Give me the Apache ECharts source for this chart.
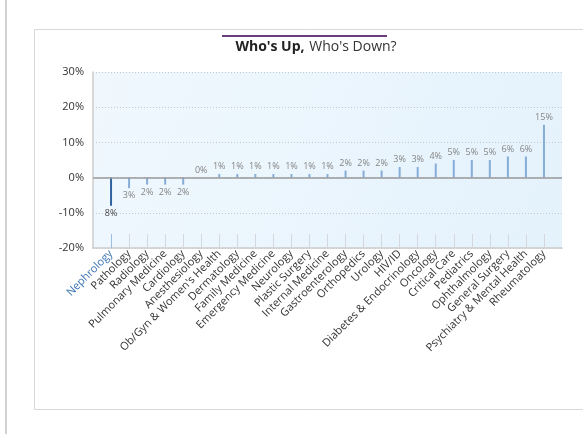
<!DOCTYPE html>
<html>
<head>
<meta charset="utf-8">
<title>Who's Up, Who's Down?</title>
<script src="https://cdn.jsdelivr.net/npm/echarts@6/dist/echarts.min.js"></script>
<style>
  html, body { margin: 0; padding: 0; background: #ffffff; }
  #chart { width: 583px; height: 434px; }
</style>
</head>
<body>
<div id="chart"></div>
<script>
// Specialties, ordered from the largest drop to the largest gain
const specialties = [
  'Nephrology', 'Pathology', 'Radiology', 'Pulmonary Medicine', 'Cardiology',
  'Anesthesiology', "Ob/Gyn & Women's Health", 'Dermatology', 'Family Medicine',
  'Emergency Medicine', 'Neurology', 'Plastic Surgery', 'Internal Medicine',
  'Gastroenterology', 'Orthopedics', 'Urology', 'HIV/ID', 'Diabetes & Endocrinology',
  'Oncology', 'Critical Care', 'Pediatrics', 'Ophthalmology', 'General Surgery',
  'Psychiatry & Mental Health', 'Rheumatology'
];

// Percentage change per specialty
const changes = [
  -8, -3, -2, -2, -2,
  0, 1, 1, 1,
  1, 1, 1, 1,
  2, 2, 2, 3, 3,
  4, 5, 5, 5, 6,
  6, 15
];

// Value axis ticks
const yTicks = [-20, -10, 0, 10, 20, 30];

const highlighted = 'Nephrology';
const barColor = '#86acd8';
const highlightColor = '#2f639f';
const labelBlue = '#3b74b4';

// Empty slots at both ends leave room before the first and after the last bar
const axisData = [''].concat(specialties, ['']);
const seriesData = [null].concat(changes.map(function (v, i) {
  const isHl = specialties[i] === highlighted;
  return {
    value: v,
    itemStyle: { color: isHl ? highlightColor : barColor },
    label: {
      position: v < 0 ? 'bottom' : 'top',
      color: isHl ? '#444444' : '#858585'
    }
  };
}), [null]);

const chart = echarts.init(document.getElementById('chart'), null, { renderer: 'canvas' });

const fontFamily = '"Open Sans", "Noto Sans", sans-serif';

chart.setOption({
  backgroundColor: '#ffffff',
  animation: false,
  textStyle: { fontFamily: fontFamily },
  title: {
    text: "{b|Who's Up,} {n|Who's Down?}",
    left: 311,
    top: 33,
    textAlign: 'center',
    textStyle: {
      rich: {
        b: { fontSize: 14, fontWeight: 'bold', color: '#222222', fontFamily: fontFamily },
        n: { fontSize: 14, fontWeight: 'normal', color: '#333333', fontFamily: fontFamily }
      }
    }
  },
  graphic: [
    { type: 'rect', silent: true, shape: { x: 6, y: -2, width: 600, height: 500 },
      style: { fill: 'none', stroke: '#d2d2d2', lineWidth: 2 } },
    { type: 'rect', silent: true, shape: { x: 34.5, y: 29.5, width: 600, height: 380 },
      style: { fill: 'none', stroke: '#d8d8d8', lineWidth: 1 } },
    { type: 'rect', silent: true, shape: { x: 222, y: 35, width: 165, height: 2 },
      style: { fill: '#6b3d7e' } }
  ],
  grid: {
    left: 93, right: 21, top: 72, bottom: 186,
    show: true,
    borderWidth: 0,
    backgroundColor: {
      type: 'linear', x: 0, y: 0, x2: 1, y2: 1,
      colorStops: [
        { offset: 0, color: '#f0f8fe' },
        { offset: 1, color: '#e4f2fc' }
      ]
    }
  },
  xAxis: [
    {
      type: 'category',
      data: axisData,
      boundaryGap: false,
      axisLine: { onZero: false, lineStyle: { color: '#cccccc', width: 1.5 } },
      axisTick: {
        show: true, inside: true, length: 14,
        interval: function (idx, val) { return val !== '' && val !== highlighted; },
        lineStyle: { color: '#d4d8dc', width: 1 }
      },
      axisLabel: {
        rotate: 45,
        interval: 0,
        margin: 4,
        fontSize: 11,
        color: '#333333',
        fontFamily: fontFamily,
        formatter: function (v) {
          return v === highlighted ? '{hl|' + v + '}' : v;
        },
        rich: {
          hl: { color: labelBlue, fontSize: 11, fontWeight: 'normal', fontFamily: fontFamily }
        }
      },
      splitLine: { show: false }
    },
    {
      // overlay axis carrying the accent tick of the highlighted specialty
      type: 'category',
      data: axisData,
      boundaryGap: false,
      position: 'bottom',
      axisLine: { show: false, onZero: false },
      axisLabel: { show: false },
      axisTick: {
        show: true, inside: true, length: 14,
        interval: function (idx, val) { return val === highlighted; },
        lineStyle: { color: '#9fbde0', width: 1 }
      },
      splitLine: { show: false }
    }
  ],
  yAxis: {
    type: 'value',
    min: yTicks[0],
    max: yTicks[yTicks.length - 1],
    interval: 10,
    axisLine: { show: true, lineStyle: { color: '#cccccc', width: 1.5 } },
    axisTick: { show: false },
    axisLabel: {
      formatter: '{value}%',
      fontSize: 11,
      color: '#333333',
      margin: 9,
      fontFamily: fontFamily
    },
    splitLine: { show: true, lineStyle: { color: '#c4c8cc', type: [1, 2], width: 1 } }
  },
  series: [
    {
      type: 'bar',
      data: seriesData,
      barWidth: 2,
      label: {
        show: true,
        fontSize: 9,
        distance: 3,
        fontFamily: fontFamily,
        formatter: function (p) { return Math.abs(p.value) + '%'; }
      },
      markLine: {
        silent: true,
        symbol: 'none',
        label: { show: false },
        lineStyle: { color: '#9a9a9a', type: 'solid', width: 1.5 },
        data: [{ yAxis: 0 }]
      }
    }
  ]
});
</script>
</body>
</html>
